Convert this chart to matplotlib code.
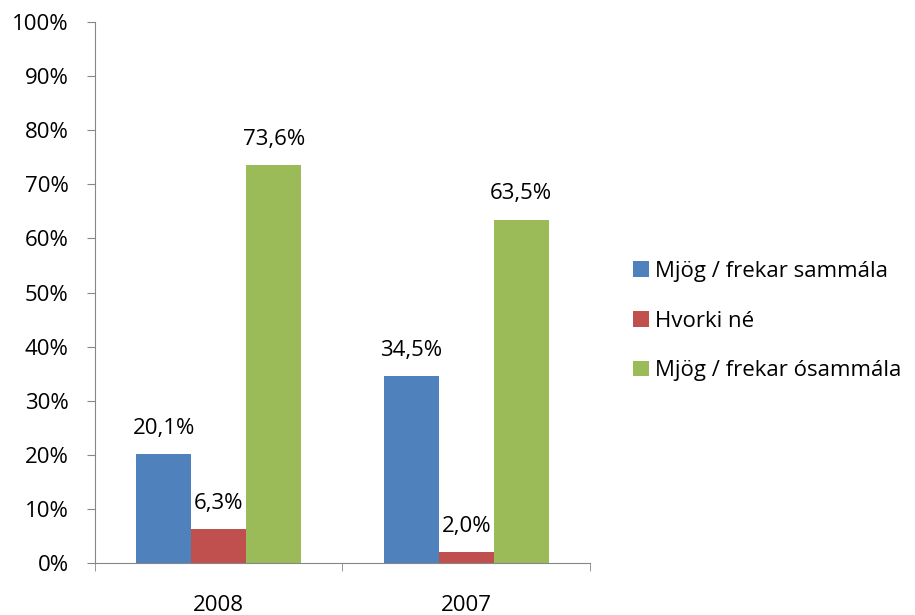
import numpy as np
from matplotlib import pyplot as plt
from matplotlib.ticker import FuncFormatter

years = ["2008", "2007"]
series = ["Mjög / frekar sammála", "Hvorki né", "Mjög / frekar ósammála"]
values = [
    [20.1, 34.5],
    [6.3, 2.0],
    [73.6, 63.5],
]
labels = [
    ["20,1%", "34,5%"],
    ["6,3%", "2,0%"],
    ["73,6%", "63,5%"],
]
colors = ["#4F81BD", "#C0504D", "#9BBB59"]

plt.rcParams['font.family'] = ['Open Sans', 'DejaVu Sans']
fs = 16

fig = plt.figure(figsize=(9.15, 6.15), dpi=100)
ax = fig.add_axes([0.1038, 0.0846, 0.5410, 0.8794])

x = np.arange(len(years))
w = 0.222
for i in range(len(series)):
    pos = x + (i - 1) * w
    bars = ax.bar(pos, values[i], w, color=colors[i], label=series[i])
    for b, txt in zip(bars, labels[i]):
        ax.annotate(txt, (b.get_x() + b.get_width() / 2, b.get_height()),
                    xytext=(0, 11), textcoords="offset points",
                    ha="center", va="bottom", fontsize=fs)

ax.set_xlim(-0.5, 1.5)
ax.set_ylim(0, 100)
ax.set_yticks(np.arange(0, 101, 10))
ax.yaxis.set_major_formatter(FuncFormatter(lambda v, p: "%d%%" % v))
ax.set_xticks(x)
ax.set_xticklabels(years)
ax.set_xticks([-0.5, 0.5, 1.5], minor=True)
ax.tick_params(axis="x", which="major", length=0, labelsize=fs, pad=23)
ax.tick_params(axis="x", which="minor", length=6, color="#868686", direction="out")
ax.tick_params(axis="y", length=6, color="#868686", labelsize=fs, pad=13)
for s in ["top", "right"]:
    ax.spines[s].set_visible(False)
for s in ["left", "bottom"]:
    ax.spines[s].set_color("#868686")

fig.legend(loc="center left", bbox_to_anchor=(0.6918, 0.478), frameon=False,
           fontsize=fs, handlelength=0.7, handleheight=0.7,
           handletextpad=0.3, labelspacing=1.3, borderpad=0, borderaxespad=0)

fig.savefig("out.png")
